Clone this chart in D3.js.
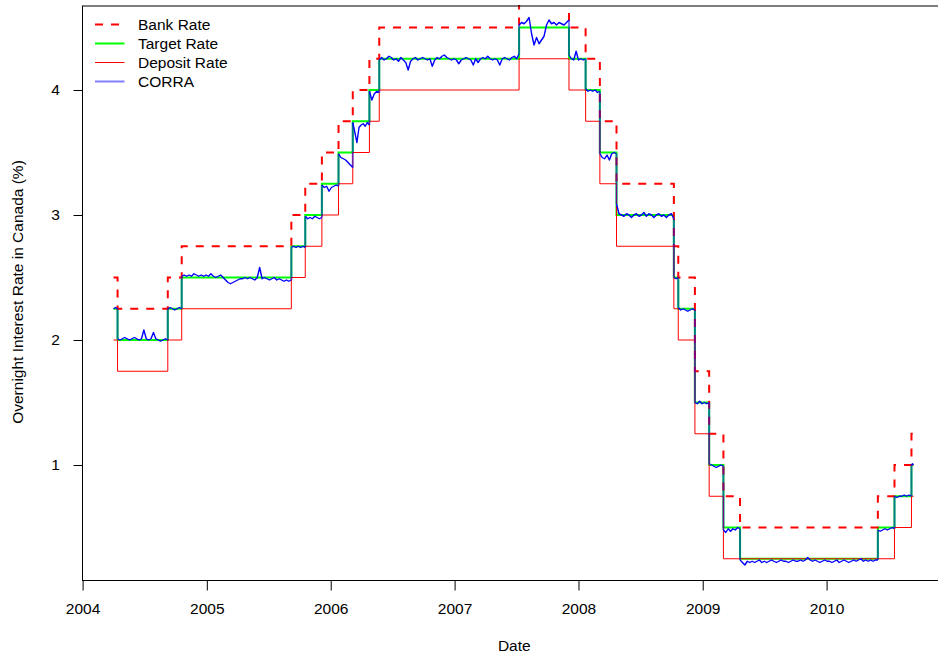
<!DOCTYPE html>
<html>
<head>
<meta charset="utf-8">
<script src="https://cdn.jsdelivr.net/npm/d3@7"></script>
<style>
  html, body { margin: 0; padding: 0; background: #fff; }
  svg { display: block; font-family: "Liberation Sans", Arial, Helvetica, sans-serif; }
</style>
</head>
<body>
<svg id="chart" width="938" height="655"></svg>
<script>
// Bank of Canada policy rates: dates on which a new level took effect
const rateDates = ["2004-04-01", "2004-04-13", "2004-09-08", "2004-10-19", "2005-09-07",
  "2005-10-18", "2005-12-06", "2006-01-24", "2006-03-07", "2006-04-25", "2006-05-24",
  "2007-07-10", "2007-12-04", "2008-01-22", "2008-03-04", "2008-04-22", "2008-10-08",
  "2008-10-21", "2008-12-09", "2009-01-20", "2009-03-03", "2009-04-21", "2010-06-01",
  "2010-07-20", "2010-09-08"];
const lastDate = "2010-09-14";

const targetRates = [2.25, 2.00, 2.25, 2.50, 2.75, 3.00, 3.25, 3.50, 3.75, 4.00, 4.25,
  4.50, 4.25, 4.00, 3.50, 3.00, 2.50, 2.25, 1.50, 1.00, 0.50, 0.25, 0.50, 0.75, 1.00];
const bankRates = [2.50, 2.25, 2.50, 2.75, 3.00, 3.25, 3.50, 3.75, 4.00, 4.25, 4.50,
  4.75, 4.50, 4.25, 3.75, 3.25, 2.75, 2.50, 1.75, 1.25, 0.75, 0.50, 0.75, 1.00, 1.25];
const depositRates = [2.00, 1.75, 2.00, 2.25, 2.50, 2.75, 3.00, 3.25, 3.50, 3.75, 4.00,
  4.25, 4.00, 3.75, 3.25, 2.75, 2.25, 2.00, 1.25, 0.75, 0.25, 0.25, 0.25, 0.50, 0.75];

// CORRA readings, roughly weekly, one list per target-rate period
const corraReadings = [
  [2.25, 2.26, 2.25],
  [2.01, 2.00, 2.01, 2.02, 2.01, 2.00, 2.01, 2.02, 2.01, 2.00, 2.01, 2.08, 2.01, 2.00, 2.01, 2.06, 2.01, 2.00, 1.99, 2.00, 2.01, 2.00],
  [2.25, 2.26, 2.25, 2.24, 2.25, 2.26, 2.25],
  [2.51, 2.52, 2.51, 2.52, 2.51, 2.53, 2.52, 2.51, 2.52, 2.51, 2.52, 2.51, 2.53, 2.51, 2.50, 2.51, 2.52, 2.50,
   2.48, 2.46, 2.45, 2.46, 2.47, 2.48, 2.49, 2.49, 2.50, 2.49, 2.50, 2.49, 2.48, 2.50, 2.58,
   2.49, 2.50, 2.49, 2.48, 2.49, 2.50, 2.48, 2.49, 2.48, 2.47, 2.48, 2.47, 2.48],
  [2.74, 2.75, 2.74, 2.75, 2.74, 2.75, 2.74],
  [2.99, 2.97, 2.98, 2.97, 2.99, 2.98, 2.97, 2.98],
  [3.24, 3.22, 3.23, 3.19, 3.22, 3.23, 3.24, 3.23],
  [3.49, 3.46, 3.45, 3.44, 3.42, 3.40, 3.38],
  [3.74, 3.66, 3.58, 3.70, 3.72, 3.73, 3.71, 3.74, 3.72],
  [3.99, 3.92, 3.97, 3.99, 3.98],
  [4.24, 4.26, 4.24, 4.25, 4.27, 4.26, 4.24, 4.25, 4.23, 4.26, 4.24, 4.22, 4.16, 4.23, 4.25, 4.26, 4.24, 4.25,
   4.26, 4.25, 4.24, 4.25, 4.19, 4.24, 4.26, 4.25, 4.27, 4.28, 4.26, 4.25, 4.24, 4.25, 4.24, 4.21, 4.24, 4.25,
   4.26, 4.25, 4.24, 4.20, 4.25, 4.22, 4.25, 4.26, 4.25, 4.27, 4.25, 4.24, 4.25, 4.24, 4.20, 4.25, 4.26, 4.25,
   4.24, 4.26, 4.27, 4.25, 4.29],
  [4.52, 4.54, 4.53, 4.55, 4.58, 4.45, 4.36, 4.42, 4.37, 4.40, 4.43, 4.52, 4.56, 4.53, 4.54, 4.52, 4.54, 4.53,
   4.52, 4.54, 4.56],
  [4.28, 4.25, 4.24, 4.31, 4.24, 4.25, 4.24, 4.25],
  [4.01, 3.99, 4.00, 3.99, 4.00, 3.98, 3.99],
  [3.49, 3.46, 3.45, 3.48, 3.44, 3.49, 3.50, 3.49],
  [3.09, 3.01, 3.00, 2.99, 3.01, 3.00, 2.98, 3.00, 3.01, 2.99, 3.00, 3.02, 2.99, 3.01, 3.00, 2.98, 3.00, 3.01,
   2.99, 3.00, 2.98, 3.00, 3.01, 2.97],
  [2.50, 2.49, 2.50],
  [2.26, 2.24, 2.25, 2.24, 2.23, 2.24, 2.25, 2.24],
  [1.50, 1.49, 1.51, 1.49, 1.50, 1.49, 1.50],
  [1.01, 1.00, 0.99, 0.98, 0.99, 1.00, 0.99],
  [0.48, 0.46, 0.49, 0.47, 0.49, 0.48, 0.50, 0.49],
  [0.24, 0.22, 0.20, 0.23, 0.22, 0.23, 0.22, 0.23, 0.24, 0.22, 0.23, 0.22, 0.23, 0.24, 0.23, 0.22, 0.23, 0.24,
   0.23, 0.23, 0.22, 0.23, 0.24, 0.23, 0.23, 0.24, 0.23, 0.24, 0.26, 0.24, 0.23, 0.24, 0.23, 0.22, 0.23, 0.24,
   0.23, 0.23, 0.22, 0.23, 0.24, 0.22, 0.23, 0.24, 0.23, 0.22, 0.23, 0.24, 0.23, 0.24, 0.25, 0.23, 0.24, 0.23,
   0.24, 0.23, 0.24, 0.24],
  [0.48, 0.47, 0.48, 0.49, 0.48, 0.49, 0.50, 0.49],
  [0.75, 0.74, 0.75, 0.75, 0.76, 0.75, 0.76, 0.75],
  [1.00, 1.01, 1.00]
];

const xTickYears = [2004, 2005, 2006, 2007, 2008, 2009, 2010];
const yTicks = [1, 2, 3, 4];

const legendItems = [
  { label: "Bank Rate", color: "#ff0000", width: 2, dash: "8,8", opacity: 1 },
  { label: "Target Rate", color: "#00ff00", width: 2, dash: null, opacity: 1 },
  { label: "Deposit Rate", color: "#ff0000", width: 1, dash: null, opacity: 1 },
  { label: "CORRA", color: "#0000ff", width: 2, dash: null, opacity: 0.5 }
];

const parse = d3.utcParse("%Y-%m-%d");
const svg = d3.select("#chart");
const fontSize = 15.5;

// Plot region
const plot = { left: 82.5, top: 5.5, right: 946, bottom: 580.5 };

const x = d3.scaleUtc()
  .domain([parse("2004-01-01"), parse("2010-01-01")])
  .range([82.6, 826.6]);
const y = d3.scaleLinear().domain([0, 4]).range([590, 90]);

svg.append("rect").attr("width", 938).attr("height", 655).attr("fill", "#fff");

svg.append("defs").append("clipPath").attr("id", "plotClip")
  .append("rect")
  .attr("x", plot.left).attr("y", 5)
  .attr("width", plot.right - plot.left).attr("height", plot.bottom - 5);

const stepLine = d3.line()
  .x(d => x(d.date))
  .y(d => y(d.v))
  .curve(d3.curveStepAfter);

function stepSeries(values) {
  const pts = rateDates.map((d, i) => ({ date: parse(d), v: values[i] }));
  pts.push({ date: parse(lastDate), v: values[values.length - 1] });
  return pts;
}

const g = svg.append("g").attr("clip-path", "url(#plotClip)");

// Target rate
g.append("path")
  .attr("d", stepLine(stepSeries(targetRates)))
  .attr("fill", "none").attr("stroke", "#00ff00").attr("stroke-width", 2);

// Deposit rate
g.append("path")
  .attr("d", stepLine(stepSeries(depositRates)))
  .attr("fill", "none").attr("stroke", "#ff0000").attr("stroke-width", 1);

// Bank rate
g.append("path")
  .attr("d", stepLine(stepSeries(bankRates)))
  .attr("fill", "none").attr("stroke", "#ff0000").attr("stroke-width", 2)
  .attr("stroke-dasharray", "8,8");

// CORRA: readings spread across each target-rate period
const periodEnds = rateDates.slice(1).concat([lastDate]);
const corraPeriods = corraReadings.map((vals, k) => {
  const t0 = parse(rateDates[k]).getTime();
  const t1 = parse(periodEnds[k]).getTime();
  return vals.map((v, i) => ({
    date: new Date(t0 + (t1 - t0) * (vals.length > 1 ? i / (vals.length - 1) : 0)),
    v: v
  }));
});

const plainLine = d3.line().x(d => x(d.date)).y(d => y(d.v));

// jumps between periods
for (let k = 0; k < corraPeriods.length - 1; k++) {
  const a = corraPeriods[k][corraPeriods[k].length - 1];
  const b = corraPeriods[k + 1][0];
  g.append("path")
    .attr("d", plainLine([a, b]))
    .attr("fill", "none").attr("stroke", "#0000ff").attr("stroke-opacity", 0.5)
    .attr("stroke-width", 2);
}
// daily variation within each period
corraPeriods.forEach(pts => {
  g.append("path")
    .attr("d", plainLine(pts))
    .attr("fill", "none").attr("stroke", "#0000ff").attr("stroke-width", 1.4)
    .attr("stroke-linejoin", "round");
});

// Box
svg.append("rect")
  .attr("x", plot.left).attr("y", 6)
  .attr("width", plot.right - plot.left).attr("height", plot.bottom - 6)
  .attr("fill", "none").attr("stroke", "#000").attr("stroke-width", 1);

// X axis
const xAxis = d3.axisBottom(x)
  .tickValues(xTickYears.map(yr => parse(yr + "-01-01")))
  .tickFormat(d3.utcFormat("%Y"))
  .tickSize(10)
  .tickPadding(12);
const gx = svg.append("g").attr("transform", `translate(0,${plot.bottom})`).call(xAxis);
gx.select(".domain").remove();
gx.selectAll("text").attr("font-size", fontSize).attr("fill", "#000")
  .attr("font-family", "Liberation Sans, Arial, sans-serif");
gx.selectAll("line").attr("stroke", "#000");

// Y axis
const yAxis = d3.axisLeft(y).tickValues(yTicks).tickFormat(d3.format("d")).tickSize(9).tickPadding(13);
const gy = svg.append("g").attr("transform", `translate(${plot.left},0)`).call(yAxis);
gy.select(".domain").remove();
gy.selectAll("text").attr("font-size", fontSize).attr("fill", "#000")
  .attr("text-anchor", "middle").attr("x", -27)
  .attr("font-family", "Liberation Sans, Arial, sans-serif");
gy.selectAll("line").attr("stroke", "#000");

// Axis titles
svg.append("text")
  .attr("x", (plot.left + plot.right) / 2).attr("y", 651)
  .attr("text-anchor", "middle").attr("font-size", fontSize)
  .text("Date");
svg.append("text")
  .attr("transform", "translate(23,292) rotate(-90)")
  .attr("text-anchor", "middle").attr("font-size", fontSize)
  .text("Overnight Interest Rate in Canada (%)");

// Legend
const lg = svg.append("g");
legendItems.forEach((it, i) => {
  const ly = 24.5 + i * 19;
  lg.append("line")
    .attr("x1", 95).attr("x2", 124.5).attr("y1", ly).attr("y2", ly)
    .attr("stroke", it.color).attr("stroke-width", it.width)
    .attr("stroke-opacity", it.opacity)
    .attr("stroke-dasharray", it.dash);
  lg.append("text")
    .attr("x", 138).attr("y", ly).attr("dy", "0.36em")
    .attr("font-size", fontSize)
    .text(it.label);
});
</script>
</body>
</html>
